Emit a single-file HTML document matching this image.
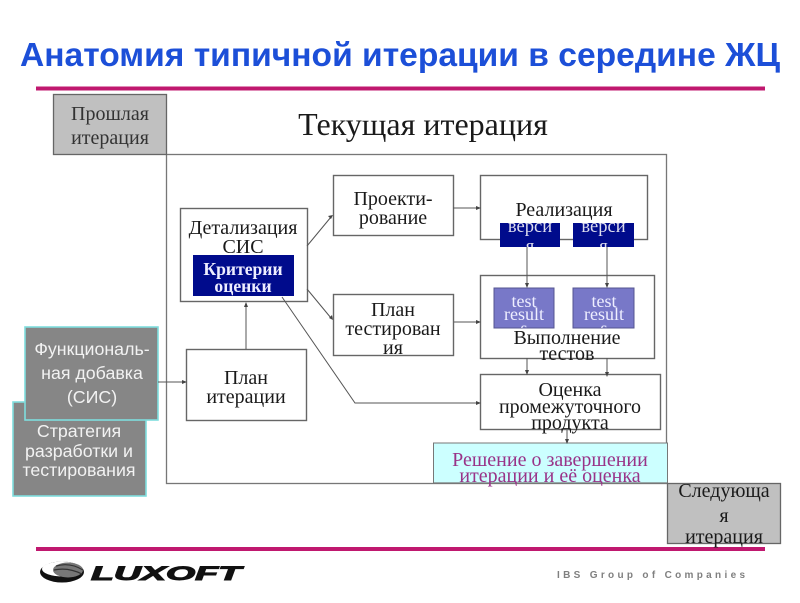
<!DOCTYPE html>
<html lang="ru"><head><meta charset="utf-8"><title>Анатомия типичной итерации</title>
<style>
html,body{margin:0;padding:0;background:#fff;width:800px;height:603px;overflow:hidden}
svg{display:block;filter:blur(.35px)}
.s{font-family:"Liberation Serif",serif;fill:#1a1a1a;text-anchor:middle;font-size:20px}
.a{font-family:"Liberation Sans",sans-serif;text-anchor:middle;font-size:17.800px;fill:#f2f2f2}
.b{fill:#fff;stroke:#666;stroke-width:1.400}
.l{stroke:#555;stroke-width:1;fill:none}
.h{fill:#444}
.v{font-size:18.500px;fill:#dde}
.t{font-size:18px;fill:#eef}
.k{font-size:17.600px;font-weight:700;fill:#eef}
.p{fill:#993388}
</style></head><body>
<svg width="800" height="603" viewBox="0 0 800 603" xmlns="http://www.w3.org/2000/svg">
<defs>
<clipPath id="v1"><rect x="500" y="223" width="60" height="24"/></clipPath>
<clipPath id="v2"><rect x="573" y="223" width="61" height="24"/></clipPath>
<clipPath id="t1"><rect x="494" y="288" width="60" height="40"/></clipPath>
<clipPath id="t2"><rect x="573" y="288" width="61" height="40"/></clipPath>
</defs>
<text x="20" y="66" font-family="Liberation Sans,sans-serif" font-weight="700" font-size="33" fill="#1c4fd8" textLength="760" lengthAdjust="spacingAndGlyphs">Анатомия типичной итерации в середине ЖЦ</text>
<rect x="36" y="86.500" width="729" height="4" fill="#c0186f"/>
<rect x="36" y="547" width="729" height="4" fill="#c0186f"/>

<rect x="166.500" y="154.500" width="500" height="329" fill="#fff" stroke="#777" stroke-width="1.300"/>
<rect x="53.500" y="94.500" width="113" height="60" fill="#c0c0c0" stroke="#666" stroke-width="1.300"/>
<text class="s" x="110" y="120" style="fill:#333">Прошлая</text>
<text class="s" x="110" y="144" style="fill:#333">итерация</text>
<text class="s" x="423" y="135" style="font-size:32px">Текущая итерация</text>

<rect class="b" x="180.500" y="208.500" width="127" height="93"/>
<text class="s" x="243" y="234">Детализация</text>
<text class="s" x="243" y="253">СИС</text>
<rect x="193" y="255" width="101" height="41" fill="#000b8c"/>
<text class="s k" x="243" y="275">Критерии</text>
<text class="s k" x="243" y="292">оценки</text>

<rect class="b" x="333.500" y="175.500" width="120" height="60"/>
<text class="s" x="393" y="205">Проекти-</text>
<text class="s" x="393" y="224">рование</text>

<rect class="b" x="480.500" y="175.500" width="167" height="64"/>
<text class="s" x="564" y="216">Реализация</text>
<rect x="500" y="223" width="60" height="24" fill="#000b8c"/>
<rect x="573" y="223" width="61" height="24" fill="#000b8c"/>
<g clip-path="url(#v1)"><text class="s v" x="530" y="232">верси</text><text class="s v" x="530" y="252">я</text></g>
<g clip-path="url(#v2)"><text class="s v" x="603.500" y="232">верси</text><text class="s v" x="603.500" y="252">я</text></g>

<rect class="b" x="480.500" y="275.500" width="174" height="83"/>
<rect x="494" y="288" width="60" height="40" fill="#7878c8" stroke="#555590"/>
<rect x="573" y="288" width="61" height="40" fill="#7878c8" stroke="#555590"/>
<g clip-path="url(#t1)"><text class="s t" x="524" y="307">test</text><text class="s t" x="524" y="320">result</text><text class="s t" x="524" y="334">s</text></g>
<g clip-path="url(#t2)"><text class="s t" x="604" y="307">test</text><text class="s t" x="604" y="320">result</text><text class="s t" x="604" y="334">s</text></g>
<text class="s" x="567" y="344">Выполнение</text>
<text class="s" x="567" y="360">тестов</text>

<rect class="b" x="333.500" y="294.500" width="120" height="61"/>
<text class="s" x="393" y="316">План</text>
<text class="s" x="393" y="335">тестирован</text>
<text class="s" x="393" y="354">ия</text>

<rect class="b" x="186.500" y="349.500" width="120" height="71"/>
<text class="s" x="246" y="384">План</text>
<text class="s" x="246" y="403">итерации</text>

<rect class="b" x="480.500" y="374.500" width="180" height="55"/>
<text class="s" x="570" y="396">Оценка</text>
<text class="s" x="570" y="413">промежуточного</text>
<text class="s" x="570" y="429">продукта</text>

<rect x="433.500" y="443" width="234" height="40" fill="#ccffff" stroke="#777" stroke-width="1"/>
<path d="M433 483H667" stroke="#777" stroke-width="1.300"/>
<text class="s p" x="550" y="466">Решение о завершении</text>
<text class="s p" x="550" y="482">итерации и её оценка</text>

<rect x="667.500" y="483.500" width="113" height="60" fill="#c0c0c0" stroke="#666" stroke-width="1.300"/>
<text class="s" x="724" y="497">Следующа</text>
<text class="s" x="724" y="522">я</text>
<text class="s" x="724" y="543">итерация</text>

<rect x="13" y="402" width="133" height="94" fill="#868686" stroke="#7fdede" stroke-width="1.600"/>
<text class="a" x="79" y="437">Стратегия</text>
<text class="a" x="79" y="457">разработки и</text>
<text class="a" x="79" y="476">тестирования</text>
<rect x="25" y="327" width="133" height="93" fill="#868686" stroke="#7fdede" stroke-width="1.600"/>
<text class="a" x="92" y="355">Функциональ-</text>
<text class="a" x="92" y="379">ная добавка</text>
<text class="a" x="92" y="403">(СИС)</text>

<!-- connectors -->
<path class="l" d="M307 246L331 217M453 208H479M454 322H479M307 289L331 318M282 297L355 403H479M246 349V303M158 382H185M527 247V285M607 247V285M527 358V373M607 358V375M567 430V442"/>
<path class="h" d="M333 215l-5 1 3 3zM481 208l-5-2v4zM481 322l-5-2v4zM333 320l-1-5-3 3zM481 403l-5-2v4zM246 302l-2 5h4zM187 382l-5-2v4zM527 288l-2-5h4zM607 288l-2-5h4zM527 375l-2-5h4zM607 377l-2-5h4zM567 444l-2-5h4z"/>

<ellipse cx="62" cy="572" rx="22" ry="10.500" fill="#111"/>
<ellipse cx="62" cy="569" rx="20" ry="7.500" fill="#fff"/>
<ellipse cx="68" cy="570" rx="15" ry="7.500" fill="#777"/>
<path d="M56 566Q70 562 83 570M54 570Q68 567 82 574" stroke="#333" stroke-width="1.200" fill="none"/>
<text x="91" y="580" font-family="Liberation Sans,sans-serif" font-weight="700" font-style="italic" font-size="19" fill="#111" stroke="#111" stroke-width="1" textLength="150" lengthAdjust="spacingAndGlyphs">LUXOFT</text>
<text x="557" y="578" font-family="Liberation Sans,sans-serif" font-weight="700" font-size="10" fill="#808080" textLength="188">IBS Group of Companies</text>
</svg>
</body></html>
